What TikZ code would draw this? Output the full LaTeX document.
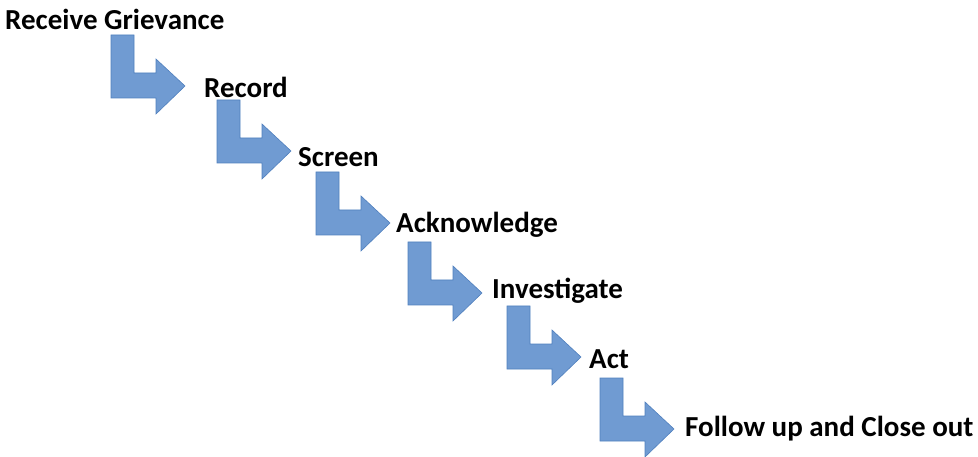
\documentclass[tikz,border=0pt]{standalone}
\usepackage{fontspec}
\setmainfont{Carlito}
\definecolor{arrowfillc}{RGB}{112,155,210}
\definecolor{arrowdrawc}{RGB}{80,128,190}
\tikzset{
  label/.style={anchor=base west, inner sep=0pt, font=\bfseries\fontsize{29}{34}\selectfont},
  bentarrow/.pic={\path[fill=arrowfillc, draw=arrowdrawc, line width=0.6pt, line join=miter]
    (0,0) -- (23,0) -- (23,38) -- (45,38) -- (45,24) -- (74,51) -- (45,79) -- (45,63) -- (0,63) -- cycle;}
}
\begin{document}
\begin{tikzpicture}[x=1pt,y=-1pt]
\useasboundingbox (0,0) rectangle (978,457);
\node[label] (s1) at (5,30) {Receive Grievance};
\node[label] (s2) at (204,98) {Record};
\node[label] (s3) at (298,167) {Screen};
\node[label] (s4) at (396,233) {Acknowledge};
\node[label] (s5) at (492,299) {Investigate};
\node[label] (s6) at (589,368) {Act};
\node[label] (s7) at (685,436) {Follow up and Close out};
\pic at (111,35) {bentarrow};
\pic at (217,100) {bentarrow};
\pic at (316,172) {bentarrow};
\pic at (408,242) {bentarrow};
\pic at (507,306) {bentarrow};
\pic at (600,378) {bentarrow};
\end{tikzpicture}
\end{document}
